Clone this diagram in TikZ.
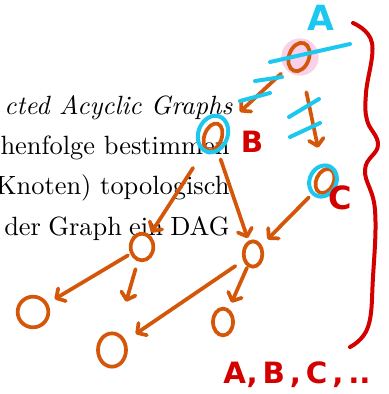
\documentclass[tikz,border=0pt]{standalone}
\usepackage{fontspec}
\newfontfamily\handfont{DejaVu Sans}
\usetikzlibrary{
    positioning,                      % relative placement
    arrows.meta,                      % Straight Barb tips
    shapes.geometric                  % ellipse
}
\definecolor{marker_orange}{RGB}{212,86,8}
\definecolor{marker_cyan}{RGB}{28,200,240}
\definecolor{marker_red}{RGB}{212,0,0}
\definecolor{marker_pink}{RGB}{249,210,234}
\tikzset{
    knot/.style={
        ellipse, draw=marker_orange, line width=2.8pt,
        inner sep=0pt
    },
    ring/.style={
        ellipse, draw=marker_cyan, line width=3pt,
        inner sep=0pt
    },
    link/.style={
        draw=marker_orange, line width=2.8pt,
        line cap=round, line join=round,
        -{Straight Barb[length=5pt,width=11pt,round]}
    },
    strike/.style={
        draw=marker_cyan, line width=3pt, line cap=round
    },
    hand/.style={
        font=\handfont\bfseries\fontsize{#1}{#1}\selectfont,
        inner sep=0pt
    },
    hand/.default=22,
    body/.style={
        font=\fontsize{10}{12}\selectfont,
        scale=1.98, transform shape,
        anchor=base east, inner sep=0pt
    }
}

\begin{document}
\begin{tikzpicture}[x=0.75pt, y=-0.75pt]
    \useasboundingbox (0,0) rectangle (389,394);
    \clip (0,0) rectangle (389,394);
    % slide text underneath
    \node[body] (t1) at (233,114) {\itshape cted Acyclic Graphs};
    \node[body] (t2) at (230,154) {henfolge bestimmen};
    \node[body] (t3) at (230,194) {Knoten) topologisch};
    \node[body] (t4) at (230,235) {\makebox[85.3pt][s]{der Graph ein DAG}};
    % highlight behind A
    \node[circle, fill=marker_pink, minimum size=28pt] (glow) at (300,57) {};
    % graph
    \node[knot, minimum width=15pt, minimum height=22pt, rotate=-20] (a) at (299,57) {};
    \node[knot, minimum width=13pt, minimum height=21pt, rotate=-20] (b) at (213,137) {};
    \node[knot, minimum width=13pt, minimum height=19pt, rotate=-25] (c) at (325,181) {};
    \node[knot, minimum width=17pt, minimum height=20pt] (p) at (142,247) {};
    \node[knot, minimum width=14pt, minimum height=19pt] (q) at (253,254) {};
    \node[knot, minimum width=23pt, minimum height=23pt] (l1) at (33,312) {};
    \node[knot, minimum width=21pt, minimum height=25pt] (l2) at (112,350) {};
    \node[knot, minimum width=15pt, minimum height=20pt] (l3) at (223,322) {};
    \draw[link, shorten <=7pt, shorten >=17pt] (a) -- (b);
    \draw[link, shorten <=16pt, shorten >=16pt] (a) -- (c);
    \draw[link, shorten <=16pt, shorten >=2pt] (b) -- (p);
    \draw[link, shorten <=8pt, shorten >=2pt] (b) -- (q);
    \draw[link, shorten <=7pt, shorten >=6pt] (c) -- (q);
    \draw[link, shorten <=2pt, shorten >=6pt] (p) -- (l1);
    \draw[link, shorten <=6pt, shorten >=24pt] (p) -- (l2);
    \draw[link, shorten <=7pt, shorten >=9pt] (q) -- (l2);
    \draw[link, shorten <=1pt, shorten >=5pt] (q) -- (l3);
    % cyan marks
    \node[ring, minimum width=22pt, minimum height=28pt, rotate=-20] (ringb) at (213,134) {};
    \node[ring, minimum width=20pt, minimum height=24pt, rotate=-25] (ringc) at (323,181) {};
    \draw[strike] (270,62) -- (350,44);
    \draw[strike] (255,81) -- (282,77);
    \draw[strike] (240,101) -- (270,93);
    \draw[strike] (289,117) -- (319,99);
    \draw[strike] (290,137) -- (320,123);
    \node[hand=26, text=marker_cyan] (la) at (321,18) {A};
    % red notes
    \node[hand=22, text=marker_red] (lb) at (252,142) {B};
    \node[hand=24, text=marker_red] (lc) at (340,198) {C};
    \draw[marker_red, line width=3pt, line cap=round] plot[smooth, tension=0.7]
        coordinates {(353,23) (372,43) (366,93) (367,120) (378,145) (365,170)
                     (375,210) (373,277) (368,327) (350,347)};
    \node[hand=22, text=marker_red] (order) at (297,375) {A,\,B\,,\,C\,,\,..};
\end{tikzpicture}
\end{document}
